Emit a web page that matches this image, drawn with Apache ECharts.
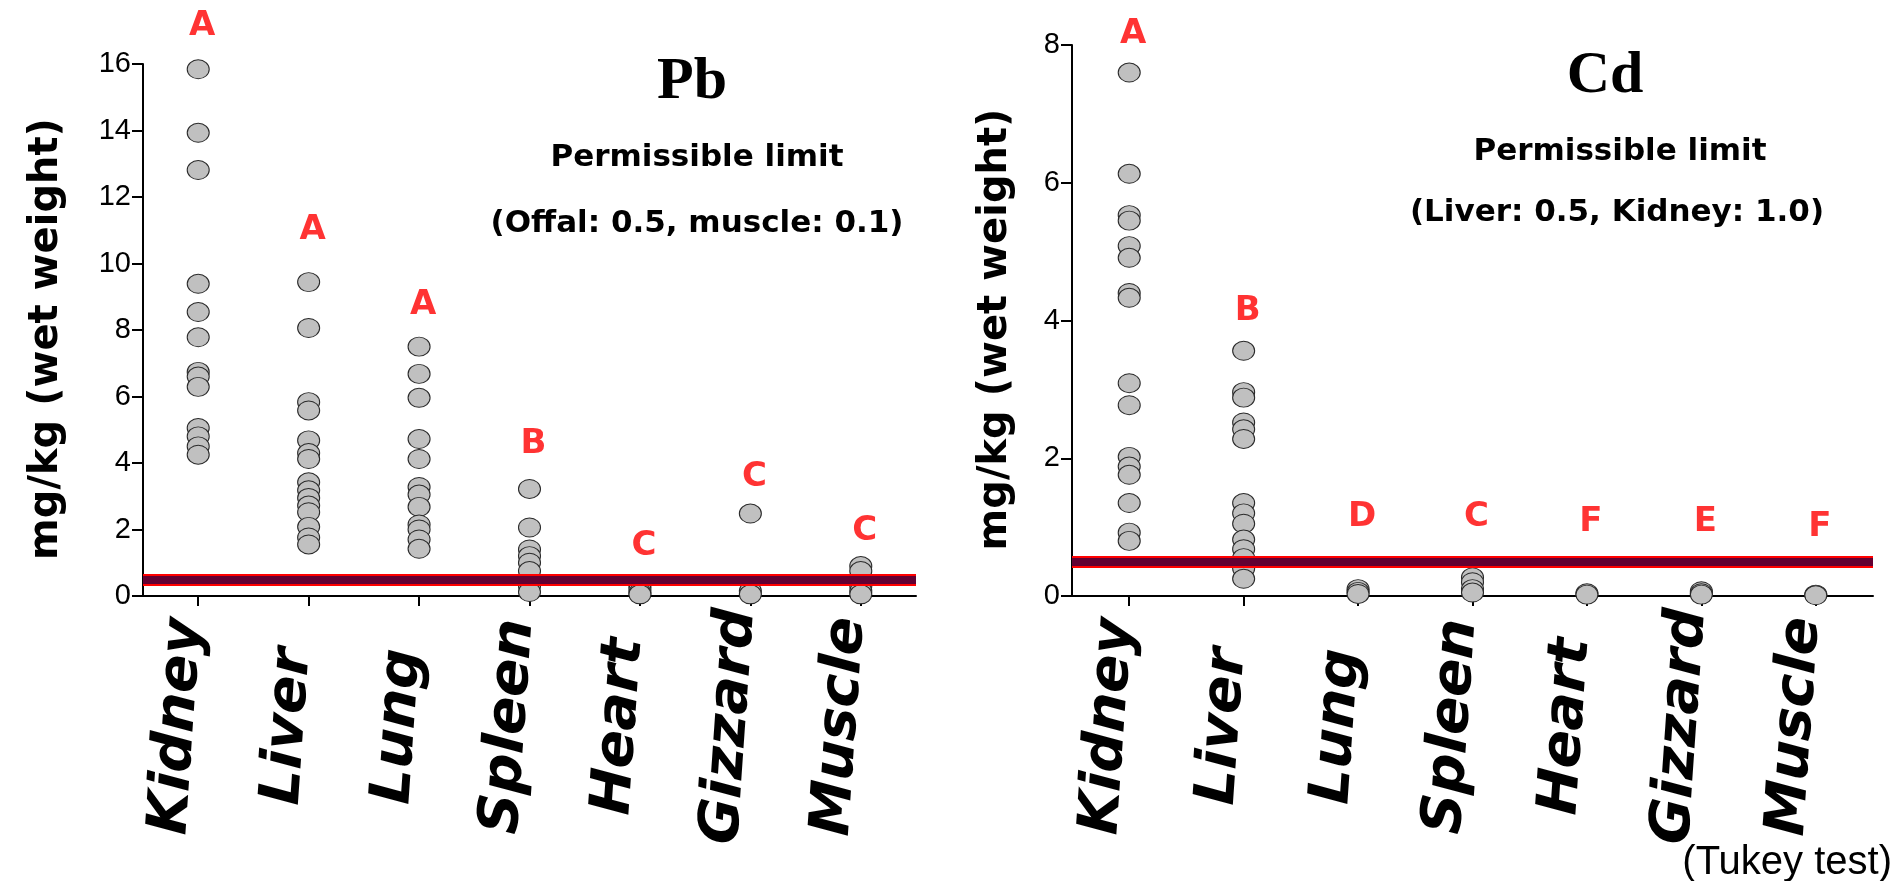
<!DOCTYPE html>
<html>
<head>
<meta charset="utf-8">
<script src="https://cdn.jsdelivr.net/npm/echarts@6/dist/echarts.min.js"></script>
<style>
  html, body { margin: 0; padding: 0; background: #ffffff; }
  #chart { width: 1897px; height: 881px; }
</style>
</head>
<body>
<div id="chart"></div>
<script>
// Tissues on the x axis (same order in both panels)
const organs = ['Kidney', 'Liver', 'Lung', 'Spleen', 'Heart', 'Gizzard', 'Muscle'];

// Pb concentrations, mg/kg wet weight
const pbKidney  = [15.84, 13.93, 12.81, 9.39, 8.54, 7.78, 6.74, 6.6, 6.29, 5.05, 4.8, 4.5, 4.25];
const pbLiver   = [9.44, 8.06, 5.83, 5.58, 4.68, 4.3, 4.12, 3.42, 3.18, 2.95, 2.72, 2.52, 2.08, 1.76, 1.55];
const pbLung    = [7.5, 6.68, 5.96, 4.72, 4.12, 3.28, 3.05, 2.68, 2.15, 2.0, 1.7, 1.42];
const pbSpleen  = [3.22, 2.06, 1.4, 1.2, 1.0, 0.75, 0.3, 0.12];
const pbHeart   = [0.3, 0.2, 0.1, 0.05];
const pbGizzard = [2.48, 0.15, 0.05];
const pbMuscle  = [0.9, 0.75, 0.3, 0.15, 0.05];
const pbGroups  = ['A', 'A', 'A', 'B', 'C', 'C', 'C'];   // Tukey groupings
const pbLimit   = 0.5;

// Cd concentrations, mg/kg wet weight
const cdKidney  = [7.6, 6.13, 5.53, 5.45, 5.08, 4.91, 4.4, 4.33, 3.09, 2.77, 2.02, 1.88, 1.76, 1.35, 0.92, 0.8];
const cdLiver   = [3.56, 2.96, 2.88, 2.52, 2.42, 2.28, 1.35, 1.2, 1.05, 0.82, 0.68, 0.55, 0.4, 0.25];
const cdLung    = [0.1, 0.06, 0.03];
const cdSpleen  = [0.27, 0.2, 0.1, 0.05];
const cdHeart   = [0.04, 0.02];
const cdGizzard = [0.07, 0.04, 0.02];
const cdMuscle  = [0.02, 0.01];
const cdGroups  = ['A', 'B', 'D', 'C', 'F', 'E', 'F'];
const cdLimit   = 0.5;

// Axis ranges and tick steps
const pbAxis = { min: 0, max: 16, step: 2 };
const cdAxis = { min: 0, max: 8, step: 2 };

// ---------------------------------------------------------------------------
// Layout: where the group letters sit (axis units) in each panel
const pbLetterAt = [17.15, 10.99, 8.76, 4.58, 1.5, 3.58, 1.95];
const cdLetterAt = [8.15, 4.14, 1.15, 1.15, 1.07, 1.07, 1.0];

const pbData = [pbKidney, pbLiver, pbLung, pbSpleen, pbHeart, pbGizzard, pbMuscle];
const cdData = [cdKidney, cdLiver, cdLung, cdSpleen, cdHeart, cdGizzard, cdMuscle];

const toPoints = groups => groups.flatMap((vals, i) => vals.map(v => [i, v]));

const FONT_SANS = 'DejaVu Sans';
const FONT_TICK = '"Liberation Sans", Arial, sans-serif';

function xAxisFor(gridIndex) {
  return {
    type: 'category',
    gridIndex,
    data: organs,
    boundaryGap: true,
    axisLine: { show: true, lineStyle: { color: '#000', width: 2 } },
    axisTick: { show: true, alignWithLabel: true, length: 10, lineStyle: { color: '#000', width: 2 } },
    axisLabel: {
      interval: 0,
      rotate: 86,
      align: 'center',
      verticalAlign: 'bottom',
      lineHeight: 40,
      margin: 132,
      color: '#000',
      fontFamily: FONT_SANS,
      fontWeight: 'bold',
      fontStyle: 'italic',
      fontSize: 56
    },
    splitLine: { show: false }
  };
}

function yAxisFor(gridIndex, range, gap) {
  return {
    type: 'value',
    gridIndex,
    min: range.min,
    max: range.max,
    interval: range.step,
    name: 'mg/kg (wet weight)',
    nameLocation: 'middle',
    nameGap: gap,
    nameTextStyle: {
      color: '#000',
      fontFamily: FONT_SANS,
      fontWeight: 'bold',
      fontSize: 40,
      padding: [0, 18, 0, 0]
    },
    axisLine: { show: true, lineStyle: { color: '#000', width: 2 } },
    axisTick: { show: true, length: 11, lineStyle: { color: '#000', width: 2 } },
    axisLabel: { color: '#000', fontFamily: FONT_TICK, fontSize: 29, margin: 12 },
    splitLine: { show: false }
  };
}

function pointSeries(index, groups, limit) {
  return {
    type: 'scatter',
    xAxisIndex: index,
    yAxisIndex: index,
    data: toPoints(groups),
    symbol: 'circle',
    symbolSize: [22, 19],
    itemStyle: { color: '#c0c0c0', borderColor: '#2a2a2a', borderWidth: 1, opacity: 1 },
    silent: true,
    z: 2,
    markLine: {
      silent: true,
      symbol: 'none',
      label: { show: false },
      z: 5,
      data: [
        { yAxis: limit, lineStyle: { color: '#ff0000', width: 12, type: 'solid', opacity: 1 } },
        { yAxis: limit, lineStyle: { color: '#620032', width: 8, type: 'solid', opacity: 1 } }
      ]
    }
  };
}

function letterSeries(index, letters, at) {
  return {
    type: 'scatter',
    xAxisIndex: index,
    yAxisIndex: index,
    data: at.map((v, i) => [i, v]),
    symbolSize: 1,
    itemStyle: { color: 'rgba(0,0,0,0)' },
    clip: false,
    silent: true,
    z: 6,
    label: {
      show: true,
      position: 'inside',
      offset: [4, 0],
      formatter: p => letters[p.dataIndex],
      color: '#ff0000',
      fontFamily: FONT_SANS,
      fontWeight: 'bold',
      fontSize: 34
    }
  };
}

function caption(text, x, y, font) {
  return {
    type: 'text',
    x, y,
    silent: true,
    style: { text, font, fill: '#000', textAlign: 'center', textVerticalAlign: 'middle' }
  };
}

const chart = echarts.init(document.getElementById('chart'), null, { renderer: 'canvas' });

chart.setOption({
  backgroundColor: '#ffffff',
  animation: false,
  grid: [
    { left: 143, top: 64, width: 773, height: 532 },
    { left: 1072, top: 45, width: 801, height: 551 }
  ],
  xAxis: [xAxisFor(0), xAxisFor(1)],
  yAxis: [yAxisFor(0, pbAxis, 76), yAxisFor(1, cdAxis, 56)],
  series: [
    pointSeries(0, pbData, pbLimit),
    pointSeries(1, cdData, cdLimit),
    letterSeries(0, pbGroups, pbLetterAt),
    letterSeries(1, cdGroups, cdLetterAt)
  ],
  graphic: [
    caption('Pb', 692, 82, 'bold 60px "Liberation Serif", "Times New Roman", serif'),
    caption('Permissible limit', 697, 158, 'bold 31px "DejaVu Sans"'),
    caption('(Offal: 0.5, muscle: 0.1)', 697, 224, 'bold 31px "DejaVu Sans"'),
    caption('Cd', 1605, 76, 'bold 60px "Liberation Serif", "Times New Roman", serif'),
    caption('Permissible limit', 1620, 152, 'bold 31px "DejaVu Sans"'),
    caption('(Liver: 0.5, Kidney: 1.0)', 1617, 213, 'bold 31px "DejaVu Sans"'),
    {
      type: 'text',
      right: 5,
      top: 843,
      silent: true,
      style: { text: '(Tukey test)', font: '40px "Liberation Sans", Arial, sans-serif', fill: '#000' }
    }
  ]
});
</script>
</body>
</html>
